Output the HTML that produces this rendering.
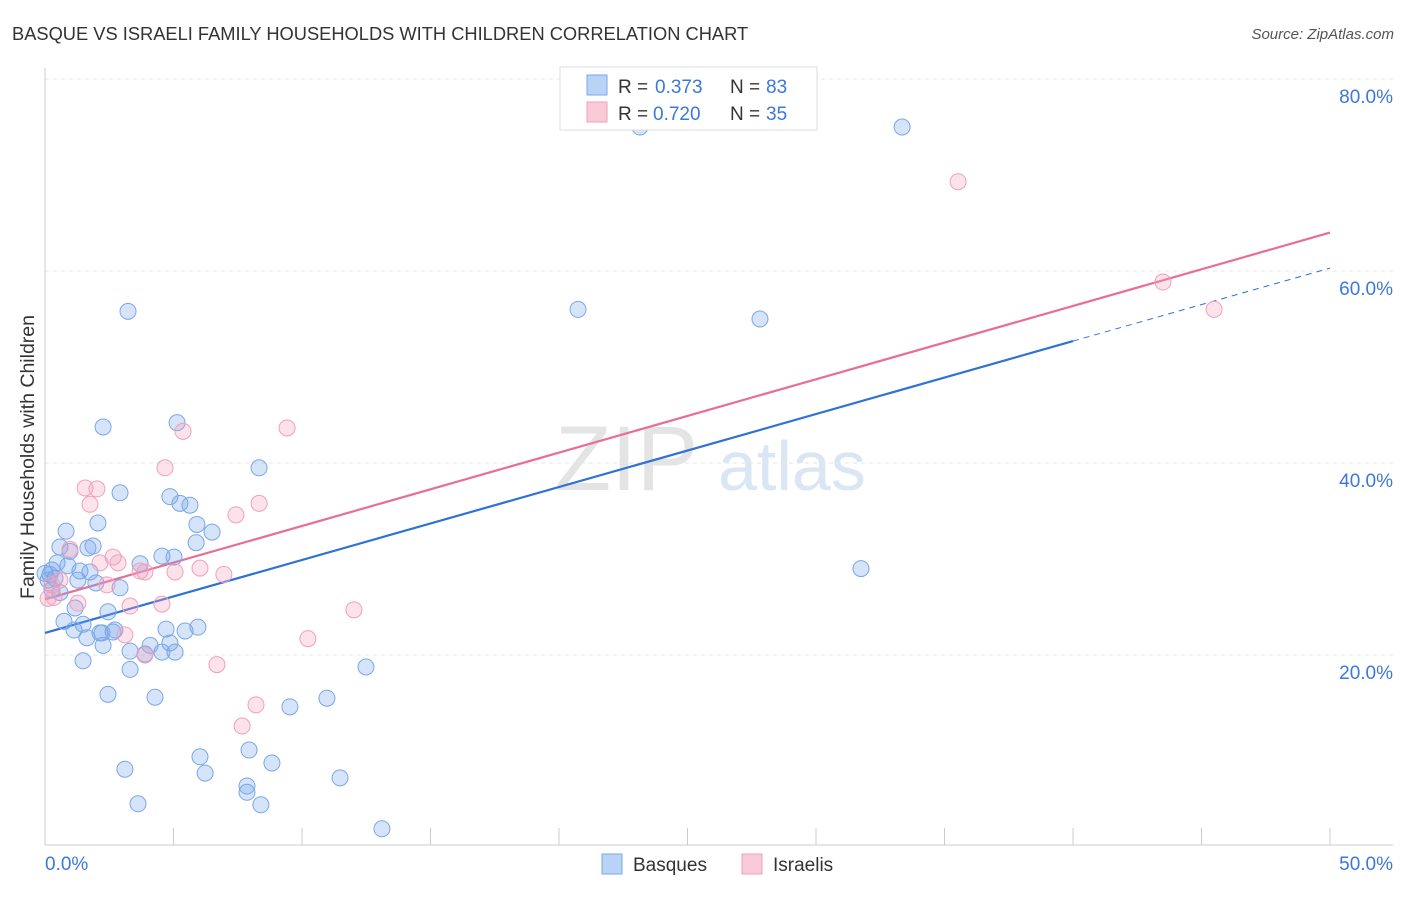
<!DOCTYPE html>
<html><head><meta charset="utf-8">
<style>
body{margin:0;background:#fff;font-family:"Liberation Sans",sans-serif;}
svg text{font-family:"Liberation Sans",sans-serif;}
</style></head>
<body>
<svg id="chart" width="1406" height="892" viewBox="0 0 1406 892" xmlns="http://www.w3.org/2000/svg">
<rect width="1406" height="892" fill="#fff"/>
<text x="12" y="40" font-size="18.3" fill="#333">BASQUE VS ISRAELI FAMILY HOUSEHOLDS WITH CHILDREN CORRELATION CHART</text>
<text x="1394" y="39" font-size="15" fill="#555" font-style="italic" text-anchor="end">Source: ZipAtlas.com</text>
<g>
<text x="555" y="490" font-size="92" fill="#e4e4e4" font-family="Liberation Serif, serif">ZIP</text>
<text x="718" y="490" font-size="70" fill="#dbe6f5">atlas</text>
</g>
<g id="grid"></g>
<g id="axes"></g>
<g id="lines"></g>
<g id="points"></g>
<text transform="translate(34,457) rotate(-90)" font-size="19.5" fill="#333" text-anchor="middle">Family Households with Children</text>
<g>
<rect x="560" y="67" width="257" height="63" fill="#fff" stroke="#ddd"/>
<rect x="587" y="75" width="20" height="20" fill="#b8d3f5" stroke="#7aa7e8"/>
<text x="618" y="93" font-size="19" fill="#333">R = </text><text x="655" y="93" font-size="19" fill="#3b78d8">0.373</text>
<text x="730" y="93" font-size="19" fill="#333">N = </text><text x="766" y="93" font-size="19" fill="#3b78d8">83</text>
<rect x="587" y="102" width="20" height="20" fill="#f9cad8" stroke="#f0a0bb"/>
<text x="618" y="120" font-size="19" fill="#333">R = </text><text x="653" y="120" font-size="19" fill="#3b78d8">0.720</text>
<text x="730" y="120" font-size="19" fill="#333">N = </text><text x="766" y="120" font-size="19" fill="#3b78d8">35</text>
</g>
<g>
<rect x="602" y="854" width="20" height="20" fill="#b8d3f5" stroke="#7aa7e8"/>
<text x="633" y="871" font-size="19" fill="#333">Basques</text>
<rect x="742" y="854" width="20" height="20" fill="#f9cad8" stroke="#f0a0bb"/>
<text x="773" y="871" font-size="19" fill="#333">Israelis</text>
</g>
</svg>
<script>
const yTicks=[20,40,60,80];
const yTickLabels=["20.0%","40.0%","60.0%","80.0%"];
const xTicks=[0,5,10,15,20,25,30,35,40,45,50];
const basqueX=[23.15,33.35,3.23,20.74,27.82,2.26,5.14,8.33,2.92,4.86,5.25,5.64,2.06,5.91,6.5,0.82,5.88,0.58,1.87,1.67,0.97,4.55,5.02,3.7,0.47,0.89,0.27,1.36,1.75,0.19,0.39,1.28,1.98,2.92,0.58,0.27,1.17,2.45,0.74,1.48,1.13,2.14,2.65,4.71,5.95,5.45,1.63,2.26,4.09,4.86,3.31,3.89,4.55,5.06,1.48,3.31,12.49,2.45,4.28,10.97,9.53,7.94,6.03,8.83,3.11,6.23,11.48,7.86,7.86,3.62,8.4,13.11,31.75,0,0.12,2.72,2.22];
const basqueY=[75,75,55.8,56,55,43.75,44.2,39.5,36.9,36.5,35.8,35.6,33.75,33.6,32.8,32.9,31.7,31.25,31.35,31.15,30.8,30.3,30.2,29.5,29.6,29.3,28.85,28.75,28.65,28.4,28,27.8,27.5,27,26.5,26.8,24.9,24.5,23.5,23.2,22.6,22.3,22.4,22.7,22.9,22.5,21.8,21,21,21.25,20.4,20.1,20.3,20.3,19.4,18.5,18.75,15.9,15.6,15.5,14.6,10.1,9.4,8.75,8.1,7.7,7.2,6.35,5.7,4.5,4.4,1.9,29,28.5,27.8,22.6,22.3];
const israeliX=[35.53,43.5,45.49,5.37,9.42,4.67,1.56,2.02,1.75,8.33,7.43,0.97,2.65,2.14,2.84,3.7,3.89,5.06,6.03,6.96,0.58,0.27,2.41,0.35,0.12,1.28,3.31,4.55,12.02,3.11,10.23,3.89,6.69,8.21,7.67];
const israeliY=[69.3,58.85,56,43.3,43.65,39.5,37.4,37.3,35.7,35.8,34.6,31,30.2,29.6,29.6,28.75,28.65,28.65,29.05,28.4,27.8,27.3,27.3,26,25.9,25.4,25.1,25.3,24.7,22.1,21.7,20,19,14.8,12.6];
const basqueFit=[22.3,60.3];
const israeliFit=[25.8,64.0];

const NS="http://www.w3.org/2000/svg";
const X=v=>45+v*25.7;
const Y=v=>847-v*9.6;
function mk(tag,attrs,parent){const e=document.createElementNS(NS,tag);for(const k in attrs)e.setAttribute(k,attrs[k]);document.getElementById(parent).appendChild(e);return e;}

yTicks.forEach((t,i)=>{
  const l=mk('line',{x1:45,x2:1393,y1:Y(t),y2:Y(t),stroke:'#e6e6e6','stroke-dasharray':'4,4'},'grid');
  
  
  const tx=mk('text',{x:1393,y:Y(t)+24,'font-size':19,fill:'#3b78d8','text-anchor':'end'},'grid');
  tx.textContent=yTickLabels[i];
  
  
});
const ax=mk('line',{x1:45,x2:1393,y1:845,y2:845,stroke:'#ccc'},'axes');


const ay=mk('line',{x1:45,x2:45,y1:68,y2:845,stroke:'#ccc'},'axes');


xTicks.forEach(t=>{
  const l=mk('line',{x1:X(t),x2:X(t),y1:828,y2:845,stroke:'#ccc'},'axes');
  
  
});
const xl0=mk('text',{x:45,y:870,'font-size':19,fill:'#3b78d8'},'axes');xl0.textContent='0.0%';


const xl1=mk('text',{x:1393,y:870,'font-size':19,fill:'#3b78d8','text-anchor':'end'},'axes');xl1.textContent='50.0%';



function pts(xs,ys,fill,stroke,name){
  xs.forEach((x,i)=>{
    const c=mk('circle',{cx:X(x),cy:Y(ys[i]),r:8,fill:fill,stroke:stroke,'stroke-width':1},'points');
    
    
  });
}
pts(basqueX,basqueY,'rgba(120,165,235,0.3)','#7aa7e8','basque-point');
pts(israeliX,israeliY,'rgba(245,160,190,0.3)','#f0a0bb','israeli-point');

const bAt=x=>basqueFit[0]+(basqueFit[1]-basqueFit[0])*x/50;
const b1=mk('line',{x1:X(0),y1:Y(bAt(0)),x2:X(40),y2:Y(bAt(40)),stroke:'#2f72d6','stroke-width':2.2},'lines');


const b2=mk('line',{x1:X(40),y1:Y(bAt(40)),x2:X(50),y2:Y(bAt(50)),stroke:'#2f72d6','stroke-width':1,'stroke-dasharray':'6,5'},'lines');


const p1=mk('line',{x1:X(0),y1:Y(israeliFit[0]),x2:X(50),y2:Y(israeliFit[1]),stroke:'#e86e96','stroke-width':2.2},'lines');


</script>
</body></html>
